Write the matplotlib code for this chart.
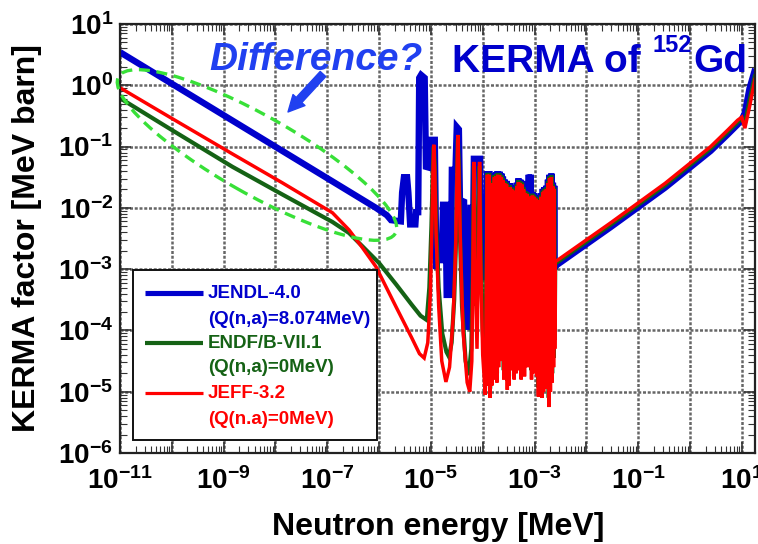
import numpy as np
import matplotlib
matplotlib.use('Agg')
import matplotlib.pyplot as plt
from matplotlib.patches import Ellipse, Rectangle
from matplotlib.lines import Line2D
from matplotlib.ticker import FixedLocator, FuncFormatter, LogLocator, NullFormatter
import matplotlib.transforms as mtransforms

# ---------------- data (log10 E [MeV], log10 KERMA [MeV barn]) ----------------
# JENDL-4.0 : low energy + resolved resonances
jendl_res_logE = [-11.0, -6.06, -5.85, -5.77, -5.58, -5.555, -5.52, -5.46, -5.435, -5.40,
                  -5.30, -5.285, -5.245, -5.225, -5.19, -5.12, -5.095, -5.01, -4.985, -4.925,
                  -4.895, -4.86, -4.82, -4.785, -4.765, -4.715, -4.695, -4.615, -4.595, -4.525,
                  -4.50, -4.46, -4.44, -4.36, -4.345, -4.255, -4.235, -4.18, -4.17, -4.05,
                  -4.035, -3.975, -3.945]
jendl_res_logK = [0.54, -2.00, -2.12, -2.20, -2.22, -1.75, -1.50, -1.50, -1.75, -2.27,
                  -2.27, -2.07, -2.07, 0.12, 0.17, 0.12, -1.33, -1.35, -0.89, -0.89,
                  -3.00, -2.50, -2.90, -2.60, -1.95, -1.95, -3.42, -3.42, -1.38, -1.38,
                  -0.68, -0.72, -1.87, -1.90, -3.94, -3.94, -2.00, -2.00, -1.20, -1.20,
                  -2.20, -3.13, -3.13]

# ENDF/B-VII.1
endf_res_logE = [-11.0, -9.98, -8.83, -7.87, -6.90, -6.58, -6.33, -6.00, -5.67, -5.37,
                 -5.20, -5.08, -5.03, -4.99, -4.96, -4.945, -4.925, -4.90, -4.85, -4.78,
                 -4.70, -4.65, -4.60, -4.55, -4.51, -4.49, -4.48, -4.46, -4.44, -4.40,
                 -4.33, -4.27, -4.22, -4.19, -4.17, -4.15, -4.12, -4.09, -4.06, -4.04,
                 -4.00, -3.95]
endf_res_logK = [-0.21, -0.74, -1.33, -1.78, -2.23, -2.41, -2.62, -2.90, -3.25, -3.58,
                 -3.76, -3.83, -3.30, -2.30, -1.30, -1.00, -1.30, -2.30, -3.30, -4.05,
                 -4.35, -4.43, -4.20, -3.50, -2.40, -1.30, -0.88, -1.30, -2.40, -3.60,
                 -4.50, -4.73, -4.30, -3.00, -1.32, -2.50, -3.60, -2.50, -1.32, -2.50,
                 -4.00, -4.80]

# JEFF-3.2
jeff_res_logE = [-11.0, -9.98, -8.83, -7.87, -6.90, -6.58, -6.33, -6.06, -5.67, -5.37,
                 -5.22, -5.13, -5.06, -5.01, -4.98, -4.96, -4.945, -4.925, -4.90, -4.85,
                 -4.79, -4.71, -4.64, -4.57, -4.52, -4.495, -4.48, -4.46, -4.43, -4.38,
                 -4.30, -4.25, -4.21, -4.19, -4.17, -4.15, -4.11, -4.08, -4.06, -4.04,
                 -4.00, -3.95]
jeff_res_logK = [-0.04, -0.55, -1.12, -1.59, -2.08, -2.36, -2.64, -2.96, -3.62, -4.12,
                 -4.38, -4.45, -4.20, -3.40, -2.30, -1.40, -0.97, -1.40, -2.40, -3.60,
                 -4.50, -4.84, -4.60, -3.80, -2.60, -1.40, -0.81, -1.40, -2.60, -4.00,
                 -4.85, -5.00, -4.50, -3.00, -1.25, -2.80, -4.30, -2.80, -1.25, -2.80,
                 -4.40, -5.05]

# dense resonance region: peak / trough energies
dense_peak_logE = [-3.91, -3.875, -3.84, -3.81, -3.775, -3.74, -3.71, -3.675, -3.64, -3.61,
                   -3.575, -3.54, -3.51, -3.475, -3.44, -3.41, -3.375, -3.34, -3.31, -3.275,
                   -3.24, -3.21, -3.175, -3.14, -3.11, -3.075, -3.04, -3.01, -2.975, -2.94,
                   -2.91, -2.875, -2.84, -2.81, -2.775, -2.74, -2.71, -2.675, -2.645, -2.62]
dense_trough_logE = [-3.893, -3.858, -3.825, -3.793, -3.758, -3.725, -3.693, -3.658, -3.625, -3.593,
                     -3.558, -3.525, -3.493, -3.458, -3.425, -3.393, -3.358, -3.325, -3.293, -3.258,
                     -3.225, -3.193, -3.158, -3.125, -3.093, -3.058, -3.025, -2.993, -2.958, -2.925,
                     -2.893, -2.858, -2.825, -2.793, -2.758, -2.725, -2.693, -2.66, -2.632, -2.61]
jendl_dense_peak = [-1.40, -1.40, -1.54, -1.57, -1.44, -1.42, -1.40, -1.41, -1.44, -1.49,
                    -1.54, -1.56, -1.60, -1.60, -1.64, -1.66, -1.68, -1.59, -1.52, -1.54,
                    -1.56, -1.64, -1.70, -1.72, -1.46, -1.46, -1.74, -1.76, -1.79, -1.82,
                    -1.84, -1.76, -1.69, -1.66, -1.64, -1.54, -1.46, -1.44, -1.59, -1.64]
jendl_dense_trough = [-3.2, -3.3, -3.4, -3.3, -3.5, -3.4, -3.3, -3.5, -3.4, -3.3,
                      -3.5, -3.4, -3.3, -3.4, -3.5, -3.4, -3.3, -3.5, -3.4, -3.3,
                      -3.5, -3.4, -3.3, -3.4, -3.5, -3.4, -3.3, -3.5, -3.4, -3.3,
                      -3.5, -3.4, -3.3, -3.4, -3.5, -3.4, -3.3, -3.5, -3.4, -3.0]
endf_dense_peak = [-1.43, -1.43, -1.57, -1.60, -1.47, -1.45, -1.43, -1.44, -1.47, -1.52,
                   -1.57, -1.59, -1.63, -1.63, -1.67, -1.69, -1.71, -1.62, -1.55, -1.57,
                   -1.59, -1.67, -1.73, -1.75, -1.79, -1.79, -1.77, -1.79, -1.82, -1.85,
                   -1.87, -1.79, -1.72, -1.69, -1.67, -1.57, -1.49, -1.47, -1.62, -1.67]
endf_dense_trough = [-4.75, -4.95, -4.75, -4.61, -4.65, -4.70, -4.45, -4.28, -4.35, -4.65,
                     -4.55, -4.82, -4.75, -4.45, -4.50, -4.65, -4.55, -4.45, -4.50, -4.65,
                     -4.55, -4.60, -4.45, -4.38, -4.45, -4.65, -4.55, -4.45, -4.60, -4.93,
                     -4.85, -4.95, -4.85, -4.75, -4.80, -5.10, -4.85, -4.70, -4.45, -4.15]
jeff_dense_peak = [-1.46, -1.46, -1.60, -1.63, -1.50, -1.48, -1.46, -1.47, -1.50, -1.55,
                   -1.60, -1.62, -1.66, -1.66, -1.70, -1.72, -1.74, -1.65, -1.58, -1.60,
                   -1.62, -1.70, -1.76, -1.78, -1.82, -1.82, -1.80, -1.82, -1.85, -1.88,
                   -1.90, -1.82, -1.75, -1.72, -1.70, -1.60, -1.52, -1.50, -1.65, -1.70]
jeff_dense_trough = [-4.90, -5.10, -4.90, -4.76, -4.80, -4.85, -4.60, -4.43, -4.50, -4.80,
                     -4.70, -4.97, -4.90, -4.60, -4.65, -4.80, -4.70, -4.60, -4.65, -4.80,
                     -4.70, -4.75, -4.60, -4.53, -4.60, -4.80, -4.70, -4.60, -4.75, -5.08,
                     -5.00, -5.10, -5.00, -4.90, -4.95, -5.25, -5.00, -4.85, -4.60, -4.30]

# fast energy region
hi_logE = [-2.60, -1.54, -0.48, -0.04, 0.40, 0.73, 0.92, 1.00, 1.06, 1.15, 1.26]
jendl_hi = [-2.95, -2.32, -1.67, -1.37, -1.07, -0.80, -0.64, -0.56, -0.45, -0.05, 0.27]
endf_hi = [-2.91, -2.28, -1.63, -1.33, -1.03, -0.76, -0.60, -0.55, -0.62, -0.25, 0.18]
jeff_hi = [-2.88, -2.25, -1.60, -1.30, -1.00, -0.73, -0.57, -0.52, -0.70, -0.35, 0.12]

labels = ["JENDL-4.0", "ENDF/B-VII.1", "JEFF-3.2"]
sublabels = ["(Q(n,a)=8.074MeV)", "(Q(n,a)=0MeV)", "(Q(n.a)=0MeV)"]
colors = ['#0000cc', '#156215', '#ff0000']


def build(res_E, res_K, pk, tr, hi_K):
    e = list(res_E)
    k = list(res_K)
    for pe, pv, te, tv in zip(dense_peak_logE, pk, dense_trough_logE, tr):
        e += [pe, te]
        k += [pv, tv]
    e += hi_logE
    k += hi_K
    return 10 ** np.array(e), 10 ** np.array(k)


series = [
    build(jendl_res_logE, jendl_res_logK, jendl_dense_peak, jendl_dense_trough, jendl_hi),
    build(endf_res_logE, endf_res_logK, endf_dense_peak, endf_dense_trough, endf_hi),
    build(jeff_res_logE, jeff_res_logK, jeff_dense_peak, jeff_dense_trough, jeff_hi),
]

# ---------------- figure ----------------
plt.rcParams['font.family'] = ['Liberation Sans', 'DejaVu Sans']
plt.rcParams['font.weight'] = 'bold'
plt.rcParams['mathtext.fontset'] = 'custom'
plt.rcParams['mathtext.rm'] = 'Liberation Sans:bold'
plt.rcParams['mathtext.bf'] = 'Liberation Sans:bold'
plt.rcParams['mathtext.it'] = 'Liberation Sans:bold:italic'

W, H = 758, 544
fig = plt.figure(figsize=(W / 100, H / 100), dpi=100)
ax = fig.add_axes([120 / W, 1 - 453 / H, (755 - 120) / W, (453 - 24) / H])

lws = [4.6, 3.0, 2.5]
for (x, y), c, lw, z in zip(series, colors, lws, [3, 4, 5]):
    ax.plot(x, y, color=c, lw=lw, zorder=z, solid_joinstyle='miter', solid_capstyle='butt')

ax.set_xscale('log')
ax.set_yscale('log')
ax.set_xlim(1e-11, 18)
ax.set_ylim(1e-6, 1e1)

xmaj = 10.0 ** np.arange(-11, 2)
ymaj = 10.0 ** np.arange(-6, 2)
ax.xaxis.set_major_locator(FixedLocator(xmaj))
ax.yaxis.set_major_locator(FixedLocator(ymaj))


def xfmt(v, pos):
    e = int(round(np.log10(v)))
    return r'$\mathregular{10^{%d}}$' % e if e % 2 != 0 else ''


def yfmt(v, pos):
    e = int(round(np.log10(v)))
    return r'$\mathregular{10^{%d}}$' % e


ax.xaxis.set_major_formatter(FuncFormatter(xfmt))
ax.yaxis.set_major_formatter(FuncFormatter(yfmt))
ax.xaxis.set_minor_locator(LogLocator(base=10, subs=np.arange(2, 10), numticks=100))
ax.yaxis.set_minor_locator(LogLocator(base=10, subs=np.arange(2, 10), numticks=100))
ax.xaxis.set_minor_formatter(NullFormatter())
ax.yaxis.set_minor_formatter(NullFormatter())

ax.tick_params(which='both', direction='in', top=True, right=True, colors='#333333')
ax.tick_params(which='major', length=8, width=1.2, labelsize=20, labelcolor='black')
ax.tick_params(axis='x', which='major', pad=10)
ax.tick_params(axis='y', which='major', pad=5)
ax.tick_params(which='minor', length=5, width=0.8)
ax.grid(which='major', color='#666666', lw=1.8, ls=(0, (1.2, 0.7)), zorder=1)
for s in ax.spines.values():
    s.set_linewidth(1.6)
    s.set_color('#222222')
    s.set_zorder(6)


def fx(x):
    return x / W


def fy(y):
    return 1 - y / H


# axis labels
fig.text(fx(438), fy(535), 'Neutron energy [MeV]', ha='center', va='baseline',
         fontsize=23, fontweight='bold')
fig.text(fx(27), fy(238), 'KERMA factor [MeV barn]', ha='center', va='center',
         rotation=90, fontsize=23, fontweight='bold')

# annotations
fig.text(fx(209), fy(70), 'Difference?', ha='left', va='baseline', fontsize=28,
         fontweight='bold', style='italic', color='#2040f0', zorder=8)
fig.text(fx(452), fy(72), 'KERMA of', ha='left', va='baseline', fontsize=28,
         fontweight='bold', color='#0000cc', zorder=8)
fig.text(fx(652), fy(52), '152', ha='left', va='baseline', fontsize=17,
         fontweight='bold', color='#0000cc', zorder=8)
fig.text(fx(693), fy(72), 'Gd', ha='left', va='baseline', fontsize=28,
         fontweight='bold', color='#0000cc', zorder=8)

ax.annotate('', xy=(288, H - 112), xytext=(323, H - 74),
            xycoords='figure pixels', textcoords='figure pixels',
            arrowprops=dict(arrowstyle='simple,head_length=0.9,head_width=0.9,tail_width=0.42',
                            color='#2040f0', mutation_scale=13, shrinkA=0, shrinkB=0),
            zorder=8)

ell = Ellipse((257, H - 155), 318, 78, angle=-29.5, fill=False, edgecolor='#38e038',
              lw=2.4, ls=(0, (3.3, 2.0)), transform=mtransforms.IdentityTransform(),
              zorder=7)
fig.add_artist(ell)

# legend (manual)
leg = Rectangle((fx(133), fy(440)), fx(377) - fx(133), fy(270) - fy(440),
                transform=fig.transFigure, facecolor='white', edgecolor='#111111',
                lw=1.4, zorder=9)
fig.add_artist(leg)
rows = [293, 343, 393]
sub_rows = [320, 368, 419]
leg_lw = [3.7, 3.0, 2.3]
for r, sr, c, lab, sub, lw in zip(rows, sub_rows, colors, labels, sublabels, leg_lw):
    fig.add_artist(Line2D([fx(145), fx(203)], [fy(r), fy(r)], transform=fig.transFigure,
                          color=c, lw=lw, zorder=10, solid_capstyle='butt'))
    fig.text(fx(208), fy(r), lab, ha='left', va='center', fontsize=13.5,
             fontweight='bold', color=c, zorder=10)
    fig.text(fx(208), fy(sr), sub, ha='left', va='center', fontsize=13.5,
             fontweight='bold', color=c, zorder=10)

fig.savefig('out.png', dpi=100)
